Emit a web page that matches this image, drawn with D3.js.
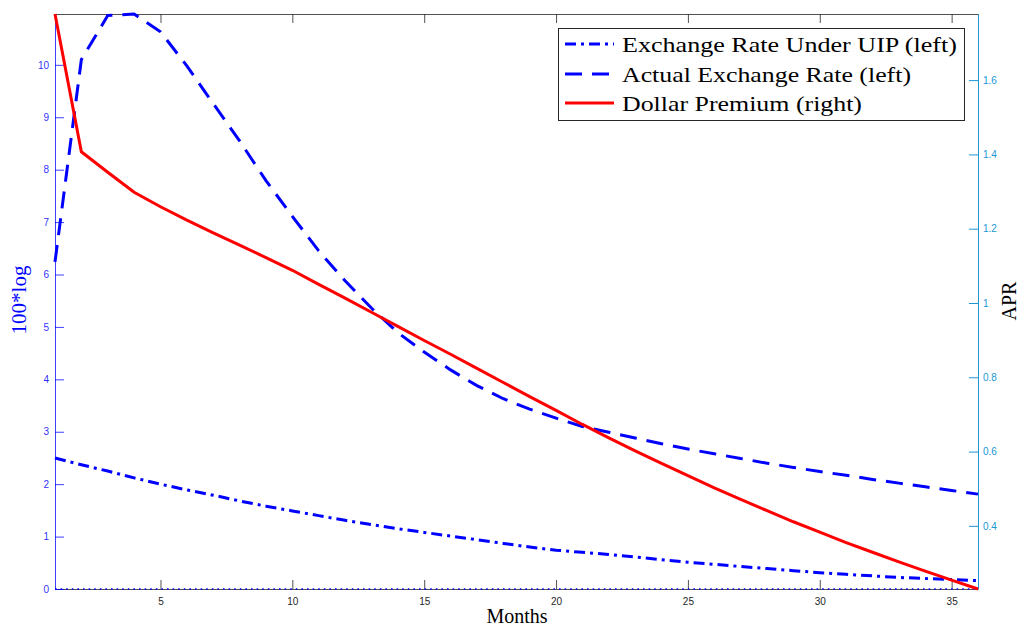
<!DOCTYPE html>
<html><head><meta charset="utf-8">
<script src="https://cdn.jsdelivr.net/npm/d3@7"></script>
<style>
html,body{margin:0;padding:0;background:#fff;}
svg{display:block;}
.tick text{font-family:"Liberation Sans",Arial,sans-serif;font-size:10px;}
</style></head>
<body>
<svg id="chart" width="1023" height="626"></svg>
<script>
// ---- data ----
const months = d3.range(1, 37);
const uipRate = [2.50,2.37,2.25,2.12,2.00,1.89,1.79,1.68,1.58,1.49,1.40,1.31,1.23,1.15,1.08,1.01,0.94,0.87,0.80,0.74,0.70,0.66,0.61,0.56,0.51,0.47,0.43,0.39,0.35,0.31,0.28,0.25,0.22,0.20,0.18,0.16];
const actualRate = [6.24,10.10,10.94,10.97,10.63,9.98,9.26,8.55,7.79,7.11,6.45,5.88,5.36,4.89,4.52,4.18,3.88,3.63,3.43,3.26,3.10,2.99,2.88,2.77,2.67,2.58,2.49,2.40,2.32,2.24,2.17,2.09,2.02,1.95,1.88,1.81];
const dollarPremium = [1.778,1.407,1.352,1.298,1.259,1.223,1.189,1.156,1.122,1.088,1.050,1.013,0.975,0.937,0.899,0.862,0.824,0.786,0.748,0.711,0.673,0.637,0.602,0.568,0.535,0.502,0.471,0.441,0.411,0.383,0.355,0.329,0.303,0.278,0.254,0.230];
const zeroLine = months.map(() => 0);
const xTicks = [5,10,15,20,25,30,35];
const leftTicks = [0,1,2,3,4,5,6,7,8,9,10];
const rightTicks = [0.4,0.6,0.8,1.0,1.2,1.4,1.6];
const legendLabels = ["Exchange Rate Under UIP (left)","Actual Exchange Rate (left)","Dollar Premium (right)"];

// ---- layout ----
const L = 55, R = 978, T = 14, B = 589;
const leftColor = "#0000ff", rightColor = "#1a96d4", axisGray = "#262626";
const svg = d3.select("#chart");

const x = d3.scaleLinear().domain(d3.extent(months)).range([L, R]);
const yL = d3.scaleLinear().domain([0, d3.max(actualRate.concat(uipRate))]).range([B, T]);
const yR = d3.scaleLinear().domain(d3.extent(dollarPremium)).range([B, T]);

// top border with ticks
svg.append("g").attr("transform", `translate(0,${T})`)
  .call(d3.axisTop(x).tickValues(xTicks).tickSize(-9).tickFormat(""))
  .call(g => g.selectAll("path,line").attr("stroke", axisGray).attr("stroke-opacity", 0.8));

// bottom axis
svg.append("g").attr("transform", `translate(0,${B})`)
  .call(d3.axisBottom(x).tickValues(xTicks).tickSize(-9).tickPadding(7).tickSizeOuter(0))
  .call(g => g.selectAll("path,line").attr("stroke", axisGray).attr("stroke-opacity", 0.8))
  .call(g => g.selectAll("text").attr("fill", axisGray).attr("dy", "0.9em"));

// left axis
svg.append("g").attr("transform", `translate(${L},0)`)
  .call(d3.axisLeft(yL).tickValues(leftTicks).tickSize(-9).tickPadding(6).tickSizeOuter(0).tickFormat(d3.format("d")))
  .call(g => g.selectAll("path,line").attr("stroke", leftColor).attr("stroke-opacity", 0.75))
  .call(g => g.selectAll("text").attr("fill", leftColor).attr("fill-opacity", 0.85));

// right axis
svg.append("g").attr("transform", `translate(${R},0)`)
  .call(d3.axisRight(yR).tickValues(rightTicks).tickSize(-9).tickPadding(5).tickSizeOuter(0).tickFormat(d => String(+d.toFixed(1))))
  .call(g => g.selectAll("path,line").attr("stroke", rightColor))
  .call(g => g.selectAll("text").attr("fill", rightColor));

// ---- lines ----
const lineL = d3.line().x((d, i) => x(months[i])).y(d => yL(d));
const lineR = d3.line().x((d, i) => x(months[i])).y(d => yR(d));

const dashDot = "11,5,3,5", dashed = "17,10";

svg.append("path").datum(zeroLine).attr("d", lineL)
  .attr("fill", "none").attr("stroke", leftColor).attr("stroke-width", 1.6).attr("stroke-dasharray", "1.6,4");
svg.append("path").datum(uipRate).attr("d", lineL)
  .attr("fill", "none").attr("stroke", leftColor).attr("stroke-width", 3).attr("stroke-dasharray", dashDot);
svg.append("path").datum(actualRate).attr("d", lineL)
  .attr("fill", "none").attr("stroke", leftColor).attr("stroke-width", 3).attr("stroke-dasharray", dashed);
svg.append("path").datum(dollarPremium).attr("d", lineR)
  .attr("fill", "none").attr("stroke", "#ff0000").attr("stroke-width", 3);

// ---- legend ----
const lg = svg.append("g");
lg.append("rect").attr("x", 558.5).attr("y", 28.5).attr("width", 406).attr("height", 92)
  .attr("fill", "#fff").attr("stroke", axisGray).attr("stroke-width", 1);
const legStyles = [{c: leftColor, d: dashDot}, {c: leftColor, d: dashed}, {c: "#ff0000", d: null}];
const legY = [44, 74, 103];
const legTextLen = [335, 289, 240];
legendLabels.forEach((lab, i) => {
  const ln = lg.append("line").attr("x1", 565).attr("x2", 614).attr("y1", legY[i]).attr("y2", legY[i])
    .attr("stroke", legStyles[i].c).attr("stroke-width", 3);
  if (legStyles[i].d) ln.attr("stroke-dasharray", legStyles[i].d);
  lg.append("text").attr("x", 622).attr("y", legY[i]).attr("dy", "0.35em")
    .attr("font-family", "'Liberation Serif','DejaVu Serif',serif").attr("font-size", 22)
    .attr("textLength", legTextLen[i]).attr("lengthAdjust", "spacingAndGlyphs")
    .attr("fill", "#000").text(lab);
});

// ---- axis titles ----
svg.append("text").attr("x", 517).attr("y", 616).attr("dy", "0.35em").attr("text-anchor", "middle")
  .attr("font-family", "'Liberation Serif',serif").attr("font-size", 20).attr("fill", "#000").text("Months");
svg.append("text").attr("transform", "translate(19,300) rotate(-90)").attr("dy", "0.35em").attr("text-anchor", "middle")
  .attr("font-family", "'Liberation Serif',serif").attr("font-size", 21).attr("fill", leftColor).text("100*log");
svg.append("text").attr("transform", "translate(1009,301) rotate(-90)").attr("dy", "0.35em").attr("text-anchor", "middle")
  .attr("font-family", "'Liberation Serif',serif").attr("font-size", 20).attr("fill", "#000").text("APR");
</script>
</body></html>
